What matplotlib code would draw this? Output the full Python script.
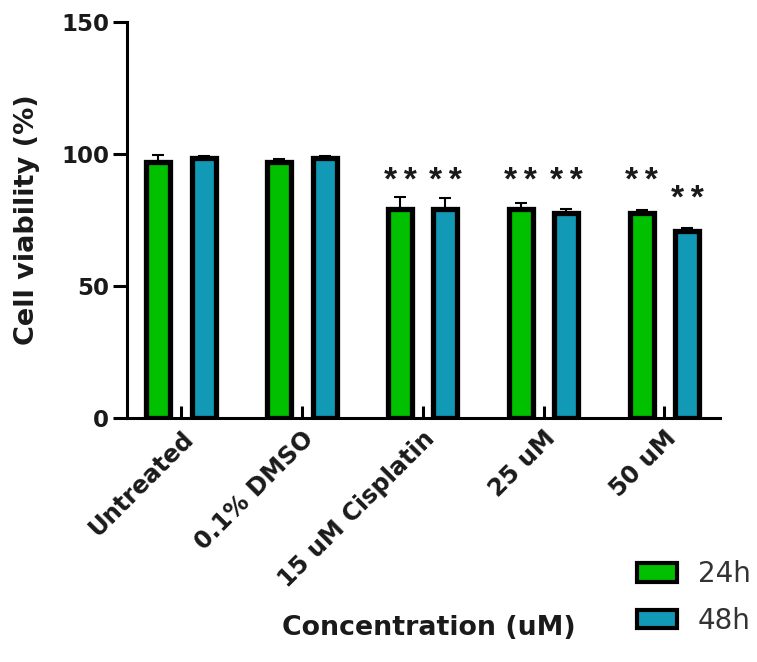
import numpy as np
import matplotlib
matplotlib.use("Agg")
import matplotlib.pyplot as plt
from matplotlib.patches import Patch

plt.rcParams['font.family'] = ['DejaVu Sans']

# ---------------------------------------------------------------
# DATA
# ---------------------------------------------------------------
groups = ['Untreated', '0.1% DMSO', '15 uM Cisplatin', '25 uM', '50 uM']
viab_24h = [97.0, 97.0, 79.0, 79.0, 77.8]
err_24h = [2.4, 1.2, 4.8, 2.3, 1.0]
viab_48h = [98.6, 98.6, 79.0, 77.8, 70.8]
err_48h = [0.5, 0.5, 4.4, 1.4, 1.3]
# significance marks and the height (in % units) they sit at
sig_24h = ['', '', '**', '**', '**']
sig_48h = ['', '', '**', '**', '**']
sig_y_24h = [0, 0, 89.6, 89.6, 89.6]
sig_y_48h = [0, 0, 89.6, 89.6, 82.8]

green = '#00C000'
blue = '#1299B5'
txt = '#1a1a1a'

# ---------------------------------------------------------------
# PLOT
# ---------------------------------------------------------------
fig = plt.figure(figsize=(7.57, 6.62), dpi=100)
ax = fig.add_axes([0.168, 0.3686, 0.783, 0.5984])

x = np.arange(len(groups))
w = 0.198
off = 0.188

ax.bar(x - off, viab_24h, width=w, color=green, edgecolor='black',
       linewidth=3.8, zorder=3)
ax.bar(x + off, viab_48h, width=w, color=blue, edgecolor='black',
       linewidth=3.8, zorder=3)

zeros = [0] * len(groups)
ax.errorbar(x - off, viab_24h, yerr=[zeros, err_24h], fmt='none',
            ecolor='black', elinewidth=1.5, capsize=4.3, capthick=1.5, zorder=2)
ax.errorbar(x + off, viab_48h, yerr=[zeros, err_48h], fmt='none',
            ecolor='black', elinewidth=1.5, capsize=4.3, capthick=1.5, zorder=2)

# stars drawn as Arial-style solid asterisks with a thin gap
star_font = dict(family=['Liberation Sans', 'DejaVu Sans'], fontweight='bold',
                 fontsize=24, color=txt, ha='center', va='center')
for i in range(len(groups)):
    if sig_24h[i]:
        ax.text(x[i] - off, sig_y_24h[i], '\u2009'.join(sig_24h[i]), **star_font)
    if sig_48h[i]:
        ax.text(x[i] + off, sig_y_48h[i], '\u2009'.join(sig_48h[i]), **star_font)

ax.set_xlim(-0.446, 4.46)
ax.set_ylim(0, 150)
ax.set_yticks([0, 50, 100, 150])
ax.set_xticks(x)
ax.set_xticklabels(groups, rotation=45, ha='right', rotation_mode='anchor',
                   fontsize=17.3, fontweight='bold', color=txt)

for lab in ax.get_yticklabels():
    lab.set_fontweight('bold')
    lab.set_fontsize(16.5)
    lab.set_color(txt)

ax.spines['top'].set_visible(False)
ax.spines['right'].set_visible(False)
ax.spines['left'].set_linewidth(2.2)
ax.spines['bottom'].set_linewidth(2.2)

ax.tick_params(axis='y', direction='out', length=10, width=2.2, pad=3)
ax.tick_params(axis='x', direction='in', length=9, width=2.2, pad=6)

ax.set_ylabel('Cell viability (%)', fontsize=19.5, fontweight='bold',
              color=txt, labelpad=15)
fig.text(0.567, 0.052, 'Concentration (uM)', ha='center', va='center',
         fontsize=19.3, fontweight='bold', color=txt)

handles = [Patch(facecolor=green, edgecolor='black', linewidth=3),
           Patch(facecolor=blue, edgecolor='black', linewidth=3)]
fig.legend(handles, ['24h', '48h'], loc='upper left',
           bbox_to_anchor=(0.841, 0.154), frameon=False, fontsize=20,
           handlelength=1.45, handleheight=0.65, handletextpad=0.75,
           labelspacing=0.68, borderpad=0, borderaxespad=0,
           labelcolor='#333333')

plt.savefig('out.png', dpi=100)
plt.close()
